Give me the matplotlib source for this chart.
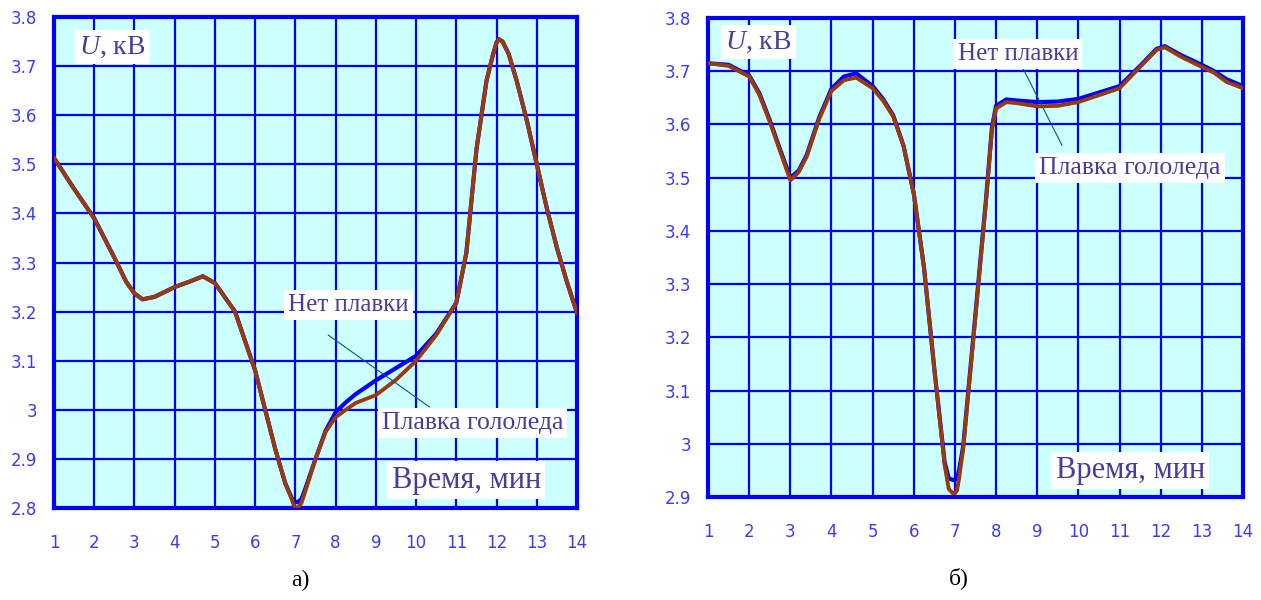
import numpy as np
import matplotlib.pyplot as plt

plt.rcParams['mathtext.fontset'] = 'custom'
plt.rcParams['mathtext.rm'] = 'Liberation Serif'
plt.rcParams['mathtext.it'] = 'Liberation Serif:italic'

# panel a) - time, min and voltage, kV
t_a = [1, 1.5, 2, 2.5, 2.8, 3, 3.2, 3.5, 4, 4.4,
       4.7, 5, 5.5, 6, 6.25, 6.5, 6.75, 6.9, 6.95, 7,
       7.05, 7.15, 7.25, 7.5, 7.75, 8, 8.25, 8.5, 9, 9.5,
       10, 10.5, 11, 11.25, 11.5, 11.75, 11.9, 12, 12.05, 12.15,
       12.3, 12.5, 12.75, 13, 13.25, 13.5, 13.75, 14]
melt_a = [3.513, 3.45, 3.39, 3.31, 3.26, 3.237, 3.225, 3.23, 3.25, 3.262,
          3.272, 3.258, 3.20, 3.08, 3.00, 2.92, 2.85, 2.82, 2.808, 2.80,
          2.80, 2.81, 2.835, 2.90, 2.955, 2.985, 3.00, 3.014, 3.03, 3.061,
          3.10, 3.152, 3.218, 3.32, 3.53, 3.67, 3.72, 3.748, 3.755, 3.75,
          3.725, 3.67, 3.59, 3.50, 3.41, 3.33, 3.26, 3.197]
nomelt_a = [3.513, 3.45, 3.39, 3.31, 3.26, 3.237, 3.225, 3.23, 3.25, 3.262,
            3.272, 3.258, 3.20, 3.08, 3.00, 2.92, 2.85, 2.822, 2.815, 2.812,
            2.812, 2.818, 2.84, 2.90, 2.957, 2.995, 3.015, 3.032, 3.06, 3.085,
            3.11, 3.155, 3.218, 3.32, 3.53, 3.67, 3.72, 3.748, 3.755, 3.75,
            3.725, 3.67, 3.59, 3.50, 3.41, 3.33, 3.26, 3.197]
yticks_a = [2.8, 2.9, 3.0, 3.1, 3.2, 3.3, 3.4, 3.5, 3.6, 3.7, 3.8]
ylabels_a = ['2.8', '2.9', '3', '3.1', '3.2', '3.3', '3.4', '3.5', '3.6', '3.7', '3.8']

# panel б)
t_b = [1, 1.5, 2, 2.25, 2.5, 2.75, 3, 3.2, 3.4, 3.7,
       4, 4.3, 4.6, 5, 5.25, 5.5, 5.75, 6, 6.25, 6.5,
       6.75, 6.85, 6.95, 7, 7.05, 7.1, 7.2, 7.5, 7.75, 7.9,
       8, 8.25, 8.5, 9, 9.5, 10, 10.5, 11, 11.5, 11.9,
       12.1, 12.5, 13, 13.3, 13.6, 14]
melt_b = [3.715, 3.71, 3.69, 3.655, 3.605, 3.55, 3.495, 3.51, 3.54, 3.61,
          3.663, 3.683, 3.688, 3.668, 3.645, 3.615, 3.56, 3.47, 3.33, 3.14,
          2.96, 2.915, 2.907, 2.907, 2.912, 2.935, 2.99, 3.24, 3.45, 3.59,
          3.63, 3.642, 3.64, 3.634, 3.635, 3.642, 3.655, 3.668, 3.708, 3.74,
          3.745, 3.727, 3.708, 3.697, 3.68, 3.668]
nomelt_b = [3.715, 3.712, 3.692, 3.658, 3.608, 3.553, 3.50, 3.513, 3.543, 3.613,
            3.667, 3.69, 3.696, 3.672, 3.648, 3.617, 3.56, 3.47, 3.33, 3.14,
            2.965, 2.935, 2.932, 2.932, 2.935, 2.95, 2.995, 3.245, 3.455, 3.595,
            3.635, 3.647, 3.645, 3.642, 3.643, 3.648, 3.66, 3.672, 3.71, 3.742,
            3.747, 3.73, 3.712, 3.70, 3.685, 3.672]
yticks_b = [2.9, 3.0, 3.1, 3.2, 3.3, 3.4, 3.5, 3.6, 3.7, 3.8]
ylabels_b = ['2.9', '3', '3.1', '3.2', '3.3', '3.4', '3.5', '3.6', '3.7', '3.8']

xticks = list(range(1, 15))

BG = '#ccffff'
GRID = '#0000ff'
TICKC = '#3b3bf5'
TXTC = '#4a3d96'
MELT = '#9a3a0a'
NOMELT = '#0000ff'
FONT = 'Liberation Serif'

fig = plt.figure(figsize=(12.61, 6), dpi=100)
ax_a = fig.add_axes([0.0428, 0.1533, 0.4148, 0.8184])
ax_b = fig.add_axes([0.5615, 0.1717, 0.4242, 0.7983])


def panel(ax, t, melt, nomelt, yticks, ylabels, xpad):
    ax.set_facecolor(BG)
    ax.set_xlim(1, 14)
    ax.set_ylim(yticks[0], yticks[-1])
    ax.set_xticks(xticks)
    ax.set_yticks(yticks)
    ax.set_yticklabels(ylabels)
    ax.grid(True, color=GRID, lw=1.6, zorder=1)
    ax.set_axisbelow(True)
    ax.tick_params(length=0, labelcolor=TICKC, labelsize=12)
    ax.tick_params(axis='x', pad=xpad)
    ax.tick_params(axis='y', pad=12)
    for s in ax.spines.values():
        s.set_color(GRID)
        s.set_linewidth(3)
    ax.plot(t, nomelt, color=NOMELT, lw=3, zorder=3, solid_joinstyle='round')
    ax.plot(t, melt, color=MELT, lw=2.8, zorder=4, solid_joinstyle='round')


def label(ax, x, y, s, size):
    ax.text(x, y, s, fontsize=size, color=TXTC, family=FONT, ha='center',
            va='center', zorder=6,
            bbox=dict(facecolor='white', edgecolor='none', pad=3))


panel(ax_a, t_a, melt_a, nomelt_a, yticks_a, ylabels_a, 19)
panel(ax_b, t_b, melt_b, nomelt_b, yticks_b, ylabels_b, 19)

# panel a) labels
label(ax_a, 2.46, 3.739, '$\\mathit{U}$, кВ', 20)
label(ax_a, 8.32, 3.213, 'Нет плавки', 18)
label(ax_a, 11.4, 2.973, 'Плавка гололеда', 18.5)
label(ax_a, 11.25, 2.857, 'Время, мин', 22)
ax_a.plot([7.82, 10.33], [3.152, 3.006], color='#006060', lw=0.8, zorder=5)

# panel б) labels
label(ax_b, 2.22, 3.755, '$\\mathit{U}$, кВ', 20)
label(ax_b, 8.53, 3.732, 'Нет плавки', 18)
label(ax_b, 11.26, 3.518, 'Плавка гололеда', 18.5)
label(ax_b, 11.26, 2.95, 'Время, мин', 22)
ax_b.plot([8.65, 9.60], [3.706, 3.561], color='#006060', lw=0.8, zorder=5)

fig.text(0.238, 0.033, 'а)', fontsize=17, family=FONT, ha='center', va='center')
fig.text(0.76, 0.036, 'б)', fontsize=17, family=FONT, ha='center', va='center')

fig.savefig('out.png', dpi=100)
